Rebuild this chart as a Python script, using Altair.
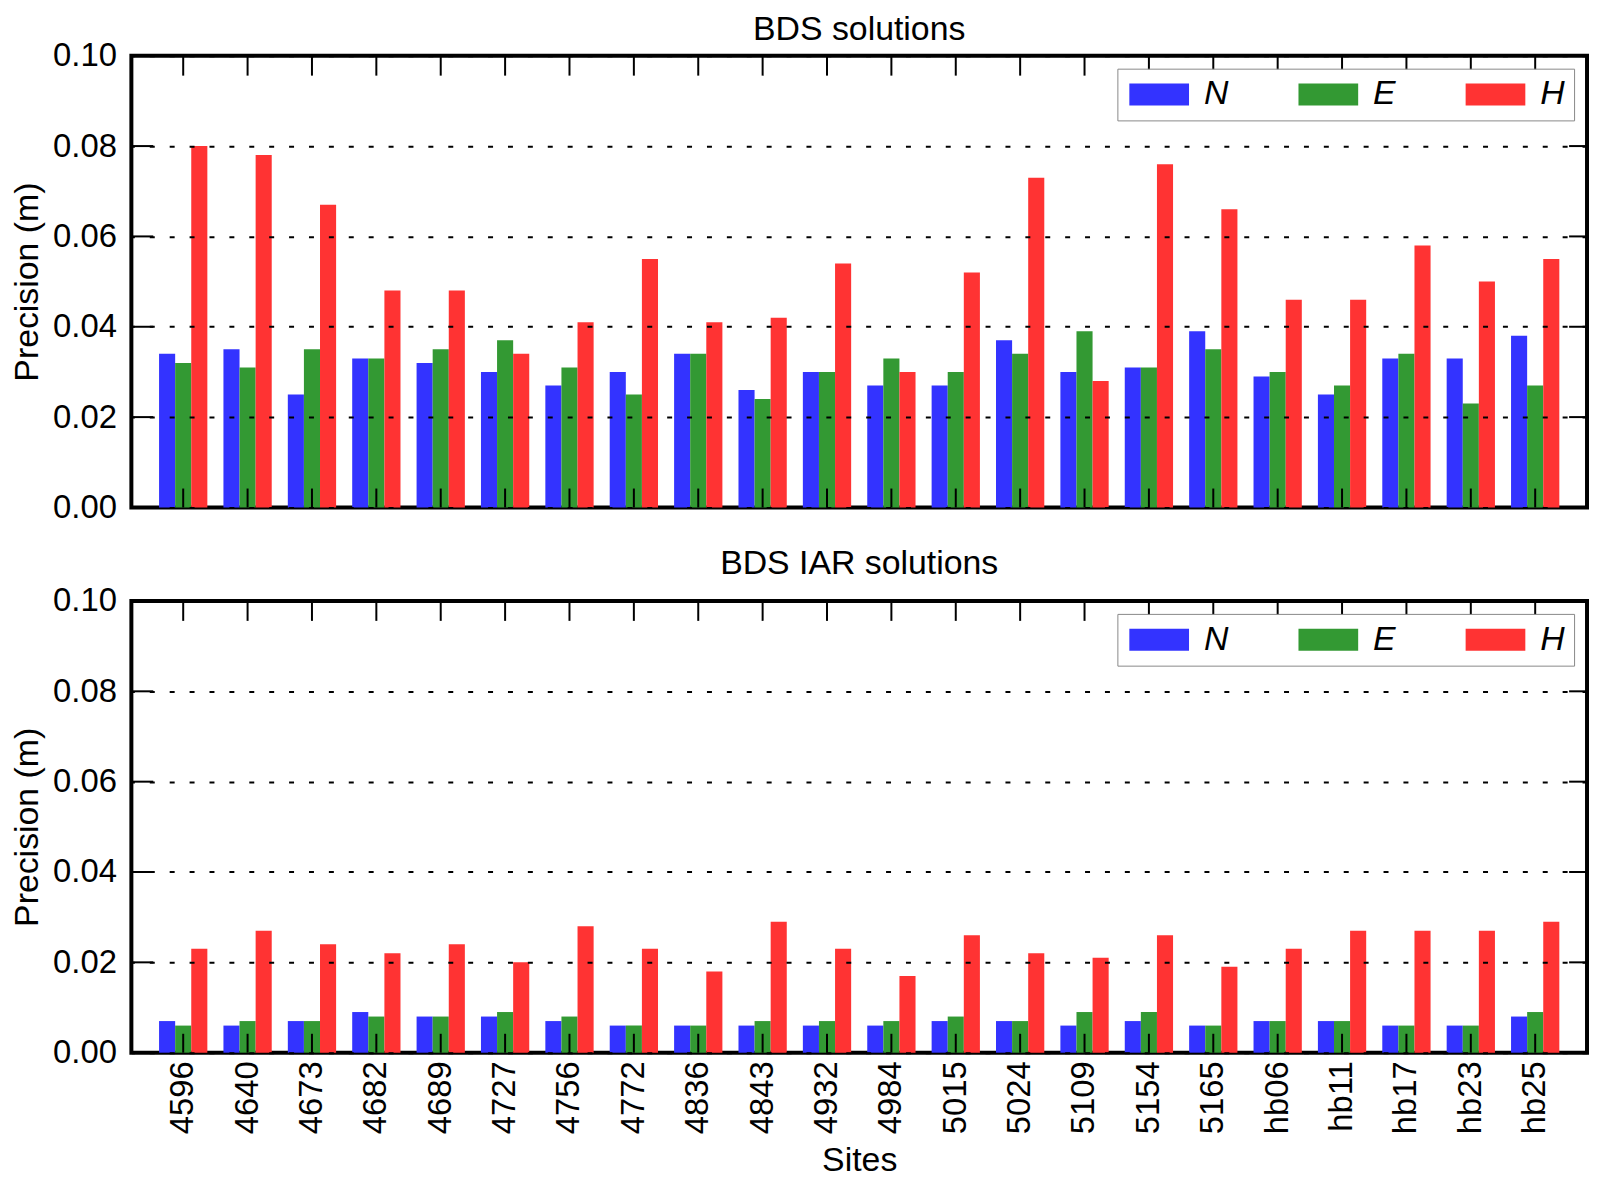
import altair as alt
import pandas as pd

sites = ["4596", "4640", "4673", "4682", "4689", "4727", "4756", "4772", "4836", "4843",
         "4932", "4984", "5015", "5024", "5109", "5154", "5165", "hb06", "hb11", "hb17",
         "hb23", "hb25"]

bds_N = [0.034, 0.035, 0.025, 0.033, 0.032, 0.030, 0.027, 0.030, 0.034, 0.026, 0.030,
         0.027, 0.027, 0.037, 0.030, 0.031, 0.039, 0.029, 0.025, 0.033, 0.033, 0.038]
bds_E = [0.032, 0.031, 0.035, 0.033, 0.035, 0.037, 0.031, 0.025, 0.034, 0.024, 0.030,
         0.033, 0.030, 0.034, 0.039, 0.031, 0.035, 0.030, 0.027, 0.034, 0.023, 0.027]
bds_H = [0.080, 0.078, 0.067, 0.048, 0.048, 0.034, 0.041, 0.055, 0.041, 0.042, 0.054,
         0.030, 0.052, 0.073, 0.028, 0.076, 0.066, 0.046, 0.046, 0.058, 0.050, 0.055]

iar_N = [0.007, 0.006, 0.007, 0.009, 0.008, 0.008, 0.007, 0.006, 0.006, 0.006, 0.006,
         0.006, 0.007, 0.007, 0.006, 0.007, 0.006, 0.007, 0.007, 0.006, 0.006, 0.008]
iar_E = [0.006, 0.007, 0.007, 0.008, 0.008, 0.009, 0.008, 0.006, 0.006, 0.007, 0.007,
         0.007, 0.008, 0.007, 0.009, 0.009, 0.006, 0.007, 0.007, 0.006, 0.006, 0.009]
iar_H = [0.023, 0.027, 0.024, 0.022, 0.024, 0.020, 0.028, 0.023, 0.018, 0.029, 0.023,
         0.017, 0.026, 0.022, 0.021, 0.026, 0.019, 0.023, 0.027, 0.027, 0.027, 0.029]

comps = ["N", "E", "H"]
colors = ["#3333ff", "#339933", "#ff3333"]
y_ticks = [0.0, 0.02, 0.04, 0.06, 0.08, 0.10]

W, H = 1463, 454
FONT = "Liberation Sans"
# wide rectangle legend swatch (60 x 22 px at symbolSize 484)
LEGEND_SYMBOL = "M-2.727,-1L2.727,-1L2.727,1L-2.727,1Z"


def long_df(n, e, h):
    rows = []
    for i, s in enumerate(sites):
        rows.append({"site": s, "comp": "N", "value": n[i]})
        rows.append({"site": s, "comp": "E", "value": e[i]})
        rows.append({"site": s, "comp": "H", "value": h[i]})
    return pd.DataFrame(rows)


def panel(title, n, e, h, show_x, title_offset):
    df = long_df(n, e, h)
    if show_x:
        xaxis = alt.Axis(title="Sites", labelAngle=-90, labelFontSize=33, labelPadding=8,
                         ticks=False, domain=False, grid=False, titleFontSize=34,
                         titleFontWeight="normal", titlePadding=10, labelFont=FONT,
                         titleFont=FONT, labelColor="black", titleColor="black")
    else:
        xaxis = None
    x_enc = alt.X("site:N", sort=sites,
                  scale=alt.Scale(paddingInner=0.25, paddingOuter=0.43), axis=xaxis)
    y_enc = alt.Y("value:Q", scale=alt.Scale(domain=[0, 0.1], nice=False, zero=True),
                  axis=alt.Axis(title="Precision (m)", values=y_ticks, format=".2f",
                                ticks=False, domain=False, grid=True, gridColor="black",
                                gridDash=[5, 15], gridDashOffset=2, gridWidth=2,
                                gridOpacity=1, labelFontSize=33, labelPadding=15,
                                labelFont=FONT, titleFont=FONT, titleFontSize=34,
                                titleFontWeight="normal", titlePadding=8,
                                labelColor="black", titleColor="black", zindex=1))
    bars = alt.Chart(df).mark_bar().encode(
        x=x_enc,
        xOffset=alt.XOffset("comp:N", sort=comps,
                            scale=alt.Scale(paddingInner=0, paddingOuter=0)),
        y=y_enc,
        color=alt.Color("comp:N", sort=comps,
                        scale=alt.Scale(domain=comps, range=colors),
                        legend=alt.Legend(title=None, orient="top-right", offset=13,
                                          direction="horizontal", columns=3,
                                          symbolType=LEGEND_SYMBOL, symbolSize=484,
                                          symbolStrokeWidth=0, symbolOpacity=1,
                                          symbolOffset=16,
                                          labelFontSize=34, labelFont=FONT,
                                          labelFontStyle="italic", labelColor="black",
                                          labelOffset=28, columnPadding=67, padding=9,
                                          fillColor="white", strokeColor="#888888",
                                          cornerRadius=0)),
    )
    site_df = pd.DataFrame({"site": sites})
    xt_top = alt.Chart(site_df).mark_rule(color="black", strokeWidth=2).encode(
        x=x_enc, y=alt.value(0), y2=alt.value(20))
    xt_bot = alt.Chart(site_df).mark_rule(color="black", strokeWidth=2).encode(
        x=x_enc, y=alt.value(H - 19), y2=alt.value(H))
    yt_df = pd.DataFrame({"value": y_ticks})
    yt_left = alt.Chart(yt_df).mark_rule(color="black", strokeWidth=2).encode(
        y=y_enc, x=alt.value(0), x2=alt.value(22))
    yt_right = alt.Chart(yt_df).mark_rule(color="black", strokeWidth=2).encode(
        y=y_enc, x=alt.value(W - 18), x2=alt.value(W))
    return alt.layer(bars, xt_top, xt_bot, yt_left, yt_right).properties(
        width=W, height=H,
        title=alt.TitleParams(title, fontSize=34, font=FONT, fontWeight="normal",
                              offset=title_offset, anchor="middle", frame="group",
                              color="black"))


top = panel("BDS solutions", bds_N, bds_E, bds_H, False, -7)
bottom = panel("BDS IAR solutions", iar_N, iar_E, iar_H, True, 4)

chart = alt.vconcat(top, bottom, spacing=19).resolve_scale(
    color="independent").resolve_legend(color="independent").configure_view(
    stroke="black", strokeWidth=4).properties(
    padding={"left": 0, "top": 0, "right": 0, "bottom": 0})

chart.save("out.html", embed_options={"renderer": "svg", "actions": False})
